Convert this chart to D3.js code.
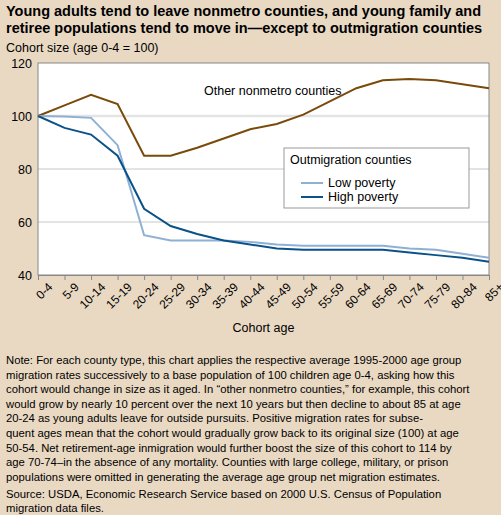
<!DOCTYPE html>
<html><head><meta charset="utf-8">
<script src="https://cdn.jsdelivr.net/npm/d3@7"></script>
<style>
body{margin:0;background:#e9d9c3;font-family:"Liberation Sans",Arial,sans-serif;}
</style></head><body>
<svg id="c" width="501" height="515"></svg>
<script>
const ages = ["0-4","5-9","10-14","15-19","20-24","25-29","30-34","35-39","40-44","45-49","50-54","55-59","60-64","65-69","70-74","75-79","80-84","85+"];
const other = [100,104,108,104.5,85,85,88,91.5,95,97,100.5,105.5,110.5,113.5,114,113.5,112,110.5];
const lowPov = [100,99.8,99.3,89,55,53,53,53,52.5,51.5,51,51,51,51,50,49.5,48,46.5];
const highPov = [100,95.5,93,85,65,58.5,55.5,53,51.5,50,49.5,49.5,49.5,49.5,48.5,47.5,46.5,45];
const yTicks = [40,60,80,100,120];

const svg = d3.select("#c");
const plotL = 38, plotR = 489, plotT = 63, plotB = 275;

const x = d3.scalePoint().domain(ages).range([plotL, plotR]);
const y = d3.scaleLinear().domain([40, 120]).range([plotB, plotT]);

svg.append("text").attr("x", 6).attr("y", 16).attr("font-weight", "bold").attr("font-size", 14.5)
  .text("Young adults tend to leave nonmetro counties, and young family and");
svg.append("text").attr("x", 6).attr("y", 33).attr("font-weight", "bold").attr("font-size", 14.5)
  .text("retiree populations tend to move in\u2014except to outmigration counties");
svg.append("text").attr("x", 6).attr("y", 52).attr("font-size", 12.5).text("Cohort size (age 0-4 = 100)");

svg.append("rect").attr("x", plotL).attr("y", plotT).attr("width", plotR - plotL).attr("height", plotB - plotT)
  .attr("fill", "#fff");

// Gridlines
svg.selectAll(".grid").data(yTicks.filter(d => d > 40 && d < 120)).enter().append("line")
  .attr("x1", plotL).attr("x2", plotR).attr("y1", d => y(d)).attr("y2", d => y(d))
  .attr("stroke", d => d === 100 ? "#e4e4e4" : "#c8c8c8").attr("stroke-width", d => d === 100 ? 2.5 : 1);

svg.append("rect").attr("x", plotL).attr("y", plotT).attr("width", plotR - plotL).attr("height", plotB - plotT)
  .attr("fill", "none").attr("stroke", "#888");

// Axes
const yAxis = d3.axisLeft(y).tickValues(yTicks).tickSize(0).tickPadding(6);
svg.append("g").attr("transform", `translate(${plotL},0)`).call(yAxis)
  .call(g => g.select(".domain").remove())
  .selectAll("text").attr("font-size", 12.5).attr("font-family", "Liberation Sans, Arial").attr("fill", "#000");

const xAxis = d3.axisBottom(x).tickSize(5).tickSizeOuter(0);
const gx = svg.append("g").attr("transform", `translate(0,${plotB})`).call(xAxis);
gx.select(".domain").attr("stroke", "#888");
gx.selectAll(".tick line").attr("stroke", "#888");
gx.selectAll("text").attr("font-size", 12).attr("font-family", "Liberation Sans, Arial").attr("fill", "#000")
  .attr("text-anchor", "end").attr("transform", "translate(4,2) rotate(-45)").attr("dy", "0.6em");

svg.append("text").attr("x", (plotL + plotR) / 2).attr("y", 332).attr("text-anchor", "middle")
  .attr("font-size", 12.5).text("Cohort age");

// Lines
const line = d3.line().x((d, i) => x(ages[i])).y(d => y(d));
[[other, "#7a4a0a"], [lowPov, "#8eb0d4"], [highPov, "#0a5287"]].forEach(([s, c]) => {
  svg.append("path").datum(s).attr("d", line).attr("fill", "none").attr("stroke", c).attr("stroke-width", 2);
});

svg.append("text").attr("x", 204).attr("y", 95).attr("font-size", 12.5).text("Other nonmetro counties");

// Legend
const lg = svg.append("g").attr("transform", "translate(284,148)");
lg.append("rect").attr("width", 185).attr("height", 60).attr("fill", "#fff").attr("stroke", "#999");
lg.append("text").attr("x", 6).attr("y", 16).attr("font-size", 12.5).text("Outmigration counties");
[["Low poverty", "#8eb0d4"], ["High poverty", "#0a5287"]].forEach(([t, c], i) => {
  const yy = 35 + i * 14;
  lg.append("line").attr("x1", 17).attr("x2", 39).attr("y1", yy).attr("y2", yy).attr("stroke", c).attr("stroke-width", 2);
  lg.append("text").attr("x", 44).attr("y", yy + 4).attr("font-size", 12.5).text(t);
});

// Note
const note = [
  "Note: For each county type, this chart applies the respective average 1995-2000 age group",
  "migration rates successively to a base population of 100 children age 0-4, asking how this",
  "cohort would change in size as it aged. In \u201cother nonmetro counties,\u201d for example, this cohort",
  "would grow by nearly 10 percent over the next 10 years but then decline to about 85 at age",
  "20-24 as young adults leave for outside pursuits. Positive migration rates for subse-",
  "quent ages mean that the cohort would gradually grow back to its original size (100) at age",
  "50-54. Net retirement-age inmigration would further boost the size of this cohort to 114 by",
  "age 70-74\u2013in the absence of any mortality. Counties with large college, military, or prison",
  "populations were omitted in generating the average age group net migration estimates."
];
svg.append("g").selectAll("text").data(note).enter().append("text")
  .attr("x", 6).attr("y", (d, i) => 364 + i * 14.6).attr("font-size", 11.3).text(d => d);
svg.append("text").attr("x", 6).attr("y", 498).attr("font-size", 11.3)
  .text("Source: USDA, Economic Research Service based on 2000 U.S. Census of Population");
svg.append("text").attr("x", 6).attr("y", 512).attr("font-size", 11.3).text("migration data files.");
</script></body></html>
